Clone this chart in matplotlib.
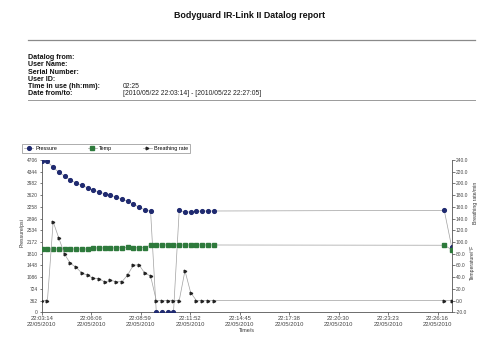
import matplotlib
matplotlib.use('Agg')
import matplotlib.pyplot as plt
from matplotlib.lines import Line2D

plt.rcParams['font.family'] = ['Liberation Sans', 'DejaVu Sans']

# Header info
title = 'Bodyguard IR-Link II Datalog report'
info_labels = ['Datalog from:', 'User Name:', 'Serial Number:', 'User ID:',
               'Time in use (hh:mm):', 'Date from/to:']
info_values = ['', '', '', '', '02:25', '[2010/05/22 22:03:14] - [2010/05/22 22:27:05]']

# Data (seconds after 22:03:14)
t_sec = [0, 20, 40, 60, 80, 100, 120, 140, 160, 180, 200, 220, 240, 260, 280,
         300, 320, 340, 360, 380, 400, 420, 440, 460, 480, 500, 520, 540, 560,
         580, 600, 1405, 1431]
pressure = [4690, 4660, 4479, 4325, 4211, 4087, 3994, 3923, 3849, 3778, 3716,
            3664, 3614, 3562, 3500, 3429, 3346, 3244, 3170, 3120, 0, 0, 0, 0,
            3160, 3089, 3108, 3120, 3130, 3130, 3130, 3150, 2017]
temp = [88.0, 88.0, 88.0, 88.0, 88.0, 88.0, 88.0, 88.0, 88.0, 89.8, 89.8, 89.8,
        89.8, 89.8, 90.3, 90.8, 89.8, 90.3, 90.3, 94.9, 94.9, 94.9, 94.9, 94.9,
        94.9, 94.9, 94.9, 94.9, 94.9, 94.9, 94.9, 94.5, 87.0]
breathing = [0, 0, 134.6, 106.3, 79.0, 63.6, 56.8, 47.0, 43.2, 38.0, 37.4, 31.7,
             34.6, 32.2, 32.2, 43.7, 60.7, 60.7, 46.6, 42.0, 0, 0, 0, 0, 0, 51.0,
             13.5, 0, 0, 0, 0, 0, 0]

start_time = '22:03:14'
end_time = '22:27:05'
xtick_times = ['22:03:14', '22:06:06', '22:08:59', '22:11:52', '22:14:45',
               '22:17:38', '22:20:30', '22:23:23', '22:26:16']
xtick_date = '22/05/2010'
p_ticks = [0, 362, 724, 1086, 1448, 1810, 2172, 2534, 2896, 3258, 3620, 3982, 4344, 4706]
r_ticks = [-20, 0, 20, 40, 60, 80, 100, 120, 140, 160, 180, 200, 220, 240]


def to_sec(s):
    h, m, sec = [int(v) for v in s.split(':')]
    return h * 3600 + m * 60 + sec


W, H = 500, 355
fig = plt.figure(figsize=(5, 3.55), dpi=100)


def fx(x):
    return x / W


def fy(y):
    return 1 - y / H


# header
fig.text(fx(250), fy(16), title, ha='center', va='center', fontsize=6.4,
         fontweight='bold', color='#111111')
fig.add_artist(Line2D([fx(28), fx(475)], [fy(40), fy(40)], color='#8a8a8a', lw=0.9))
fig.add_artist(Line2D([fx(28), fx(475)], [fy(100), fy(100)], color='#9a9a9a', lw=0.7))
for i, (lab, val) in enumerate(zip(info_labels, info_values)):
    y = 57.7 + i * 7.2
    fig.text(fx(28), fy(y), lab, ha='left', va='center', fontsize=5.1,
             fontweight='bold', color='#111111')
    if val:
        fig.text(fx(123), fy(y), val, ha='left', va='center', fontsize=4.9,
                 color='#222222')

# chart
ax = fig.add_axes([fx(41.7), fy(312.3), (451.7 - 41.7) / W, (312.3 - 160) / H])
ax2 = ax.twinx()

line_col = '#a0a0a0'
ax.plot(t_sec, pressure, color=line_col, lw=0.5, marker='o', ms=2.7,
        mfc='#1f2a70', mec='#1f2a70', label='Pressure', zorder=3)
ax2.plot(t_sec, temp, color=line_col, lw=0.5, marker='s', ms=2.5,
         mfc='#2e7a3c', mec='#2e7a3c', label='Temp', zorder=3)
ax2.plot(t_sec, breathing, color=line_col, lw=0.5, marker='>', ms=1.9,
         mfc='#222222', mec='#222222', label='Breathing rate', zorder=3)

t_end = to_sec(end_time) - to_sec(start_time)
ax.set_xlim(0, t_end)
ax.set_ylim(p_ticks[0], p_ticks[-1])
ax2.set_ylim(r_ticks[0], r_ticks[-1])

xt = [to_sec(s) - to_sec(start_time) for s in xtick_times]
ax.set_xticks(xt)
ax.set_xticklabels([s + '\n' + xtick_date for s in xtick_times], fontsize=4.2,
                   color='#333333', linespacing=1.15)
ax.set_yticks(p_ticks)
ax.set_yticklabels([str(v) for v in p_ticks], fontsize=3.5, color='#333333')
ax2.set_yticks(r_ticks)
ax2.set_yticklabels(['%.1f' % v for v in r_ticks], fontsize=3.5, color='#333333')

for a in (ax, ax2):
    a.tick_params(length=1.8, width=0.5, pad=1.2, colors='#444444')
    a.spines['top'].set_visible(False)
    for s in ('left', 'right', 'bottom'):
        a.spines[s].set_color('#555555')
        a.spines[s].set_linewidth(0.6)
ax.spines['right'].set_visible(False)
ax2.spines['left'].set_visible(False)
ax2.spines['bottom'].set_visible(False)

ax.set_xlabel('Time/s', fontsize=3.9, color='#333333', labelpad=1)
fig.text(fx(21.7), fy(233), 'Pressure/psi', rotation=90, ha='center', va='center',
         fontsize=3.7, color='#333333')
fig.text(fx(476), fy(203), 'Breathing rate/min', rotation=90, ha='center',
         va='center', fontsize=3.7, color='#333333')
fig.text(fx(472.5), fy(262), 'Temperature/°F', rotation=90, ha='center',
         va='center', fontsize=3.7, color='#333333')

# legend
handles = ax.get_lines() + ax2.get_lines()
leg = fig.legend(handles, [h.get_label() for h in handles], ncol=3, mode='expand',
                 loc='lower left',
                 bbox_to_anchor=(fx(22), fy(153), (190 - 22) / W, (153 - 141) / H),
                 fontsize=3.9, frameon=True, fancybox=False, handlelength=1.6,
                 handletextpad=0.4, borderpad=0.4, borderaxespad=0)
leg.get_frame().set_edgecolor('#888888')
leg.get_frame().set_linewidth(0.6)

fig.savefig('out.png', dpi=100)
